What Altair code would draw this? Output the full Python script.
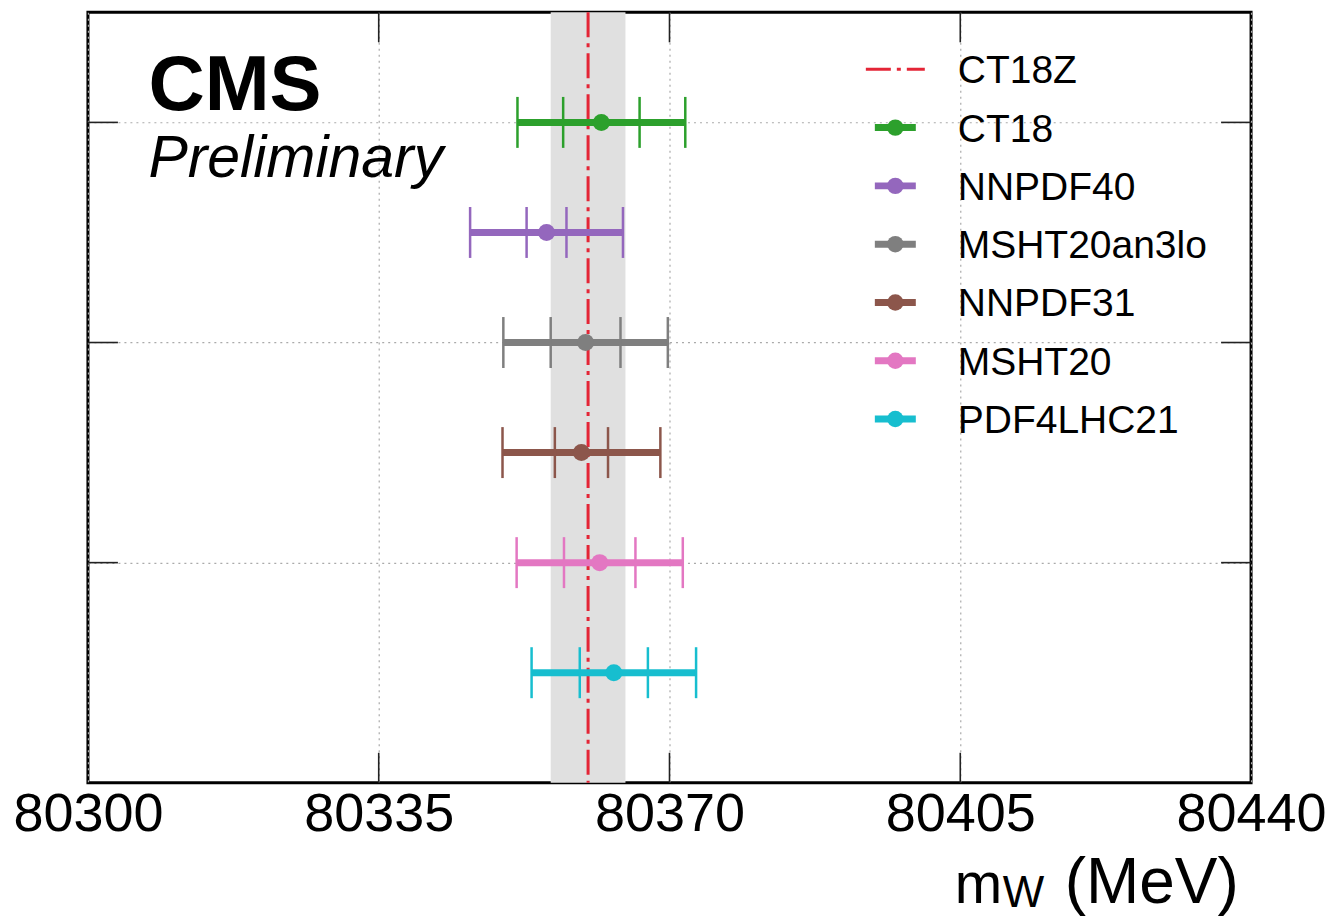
import altair as alt
import pandas as pd

# ---------------- data ----------------
names = ["CT18", "NNPDF40", "MSHT20an3lo", "NNPDF31", "MSHT20", "PDF4LHC21"]
colors = ["#2ca02c", "#9467bd", "#7f7f7f", "#8c564b", "#e377c2", "#17becf"]
central = [80361.8, 80355.2, 80359.9, 80359.4, 80361.6, 80363.3]
err_total = [10.1, 9.2, 9.9, 9.5, 10.0, 9.9]
err_inner = [4.6, 2.4, 4.2, 3.2, 4.3, 4.1]
positions = [6, 5, 4, 3, 2, 1]

ref_name = "CT18Z"
ref_central = 80360.2
ref_err = 4.5
ref_color = "#e42536"

x_ticks = [80300, 80335, 80370, 80405, 80440]
y_ticks = [2, 4, 6]
x_domain = [80300, 80440]
y_domain = [0, 7]

legend_names = [ref_name] + names
legend_colors = [ref_color] + colors

W, H = 1164, 771
FONT = "Liberation Sans"

# ---------------- tables ----------------
main_df = pd.DataFrame({
    "name": names, "color": colors, "central": central, "pos": positions,
    "lo": [c - e for c, e in zip(central, err_total)],
    "hi": [c + e for c, e in zip(central, err_total)],
})
cap_rows = []
for n, col, c, et, ei, p in zip(names, colors, central, err_total, err_inner, positions):
    for xv in (c - et, c - ei, c + ei, c + et):
        cap_rows.append({"name": n, "color": col, "xv": xv, "pos": p})
caps_df = pd.DataFrame(cap_rows)
ref_df = pd.DataFrame({"central": [ref_central], "lo": [ref_central - ref_err],
                       "hi": [ref_central + ref_err]})
xt_df = pd.DataFrame({"v": x_ticks[1:-1]})
yt_df = pd.DataFrame({"v": y_ticks})
leg_df = pd.DataFrame({"name": legend_names, "color": legend_colors,
                       "idx": list(range(len(legend_names)))})

xscale = alt.Scale(domain=x_domain, nice=False, zero=False)
yscale = alt.Scale(domain=y_domain, nice=False, zero=False)
xaxis = alt.Axis(values=x_ticks, grid=True, gridDash=[2, 4], gridColor="#aaaaaa",
                 gridWidth=1.2, ticks=False, tickSize=0, domain=False,
                 labelFontSize=54, labelFont=FONT, labelColor="black",
                 labelPadding=5, labelFlush=False, labelOverlap=False,
                 format="d", title=None)
yaxis = alt.Axis(values=y_ticks, grid=True, gridDash=[2, 4], gridColor="#aaaaaa",
                 gridWidth=1.2, ticks=False, tickSize=0, domain=False,
                 labels=False, title=None)

def X(f):
    return alt.X(f, type="quantitative", scale=xscale, axis=xaxis)

def Y(f):
    return alt.Y(f, type="quantitative", scale=yscale, axis=yaxis)

col = alt.Color("color:N", scale=None)

band = alt.Chart(ref_df).mark_rect(color="#e0e0e0").encode(
    x=X("lo"), x2="hi:Q", y=alt.value(0), y2=alt.value(H))
ref_line = alt.Chart(ref_df).mark_rule(
    color=ref_color, strokeWidth=3, strokeDash=[25, 6, 4, 6]).encode(x=X("central"))
bars = alt.Chart(main_df).mark_rule(strokeWidth=7).encode(
    x=X("lo"), x2="hi:Q", y=Y("pos"), color=col)
caps = alt.Chart(caps_df).mark_rule(strokeWidth=2.5, yOffset=-25.5, y2Offset=25.5).encode(
    x=X("xv"), y=Y("pos"), y2="pos:Q", color=col)
pts = alt.Chart(main_df).mark_circle(size=290, opacity=1).encode(
    x=X("central"), y=Y("pos"), color=col)

tick_style = dict(color="#222222", strokeWidth=1.6)
xt_bot = alt.Chart(xt_df).mark_rule(**tick_style).encode(
    x=X("v"), y=alt.value(H), y2=alt.value(H - 30))
xt_top = alt.Chart(xt_df).mark_rule(**tick_style).encode(
    x=X("v"), y=alt.value(0), y2=alt.value(30))
yt_left = alt.Chart(yt_df).mark_rule(**tick_style).encode(
    y=Y("v"), x=alt.value(0), x2=alt.value(30))
yt_right = alt.Chart(yt_df).mark_rule(**tick_style).encode(
    y=Y("v"), x=alt.value(W), x2=alt.value(W - 30))

main = alt.layer(band, ref_line, bars, caps, pts, xt_bot, xt_top, yt_left, yt_right)

# ---------------- legend ----------------
legY = alt.Y("idx:Q", scale=alt.Scale(domain=[0, len(legend_names) - 1], range=[57, 407]),
             axis=None)
leg_ref = alt.Chart(leg_df.iloc[:1]).mark_rule(
    color=ref_color, strokeWidth=3, strokeDash=[25, 6, 4, 6]).encode(
    x=alt.value(778.5), x2=alt.value(837.5), y=legY)
leg_bar = alt.Chart(leg_df.iloc[1:]).mark_rule(strokeWidth=7).encode(
    x=alt.value(787.5), x2=alt.value(828.5), y=legY, color=col)
leg_pt = alt.Chart(leg_df.iloc[1:]).mark_circle(size=270, opacity=1).encode(
    x=alt.value(808), y=legY, color=col)
leg_txt = alt.Chart(leg_df).mark_text(
    align="left", baseline="middle", fontSize=39, font=FONT, color="black", dy=2).encode(
    x=alt.value(870.5), y=legY, text="name:N")
legend = alt.layer(leg_ref, leg_bar, leg_pt, leg_txt)

# ---------------- texts ----------------
def label(txt, x, y, **kw):
    return alt.Chart(pd.DataFrame({"t": [txt]})).mark_text(
        font=FONT, color="black", baseline="alphabetic", **kw).encode(
        x=alt.value(x), y=alt.value(y), text="t:N")

cms = label("CMS", 60.5, 98, fontSize=78, fontWeight="bold", align="left")
prelim = label("Preliminary", 60.5, 165, fontSize=59, fontStyle="italic", align="left")
t_m = label("m", 867.5, 891, fontSize=57, align="left")
t_w = label("W", 915.5, 895, fontSize=44, align="left")
t_mev = label("(MeV)", 977.5, 891, fontSize=64, align="left")

chart = alt.layer(main, legend, cms, prelim, t_m, t_w, t_mev).resolve_scale(
    y="independent"
).properties(
    width=W, height=H,
    autosize=alt.AutoSizeParams(type="none"),
    padding={"left": 80, "top": 4, "right": 75, "bottom": 134},
).configure(font=FONT).configure_view(stroke="black", strokeWidth=3)

chart.save("out.html", embed_options={"renderer": "svg", "actions": False})
